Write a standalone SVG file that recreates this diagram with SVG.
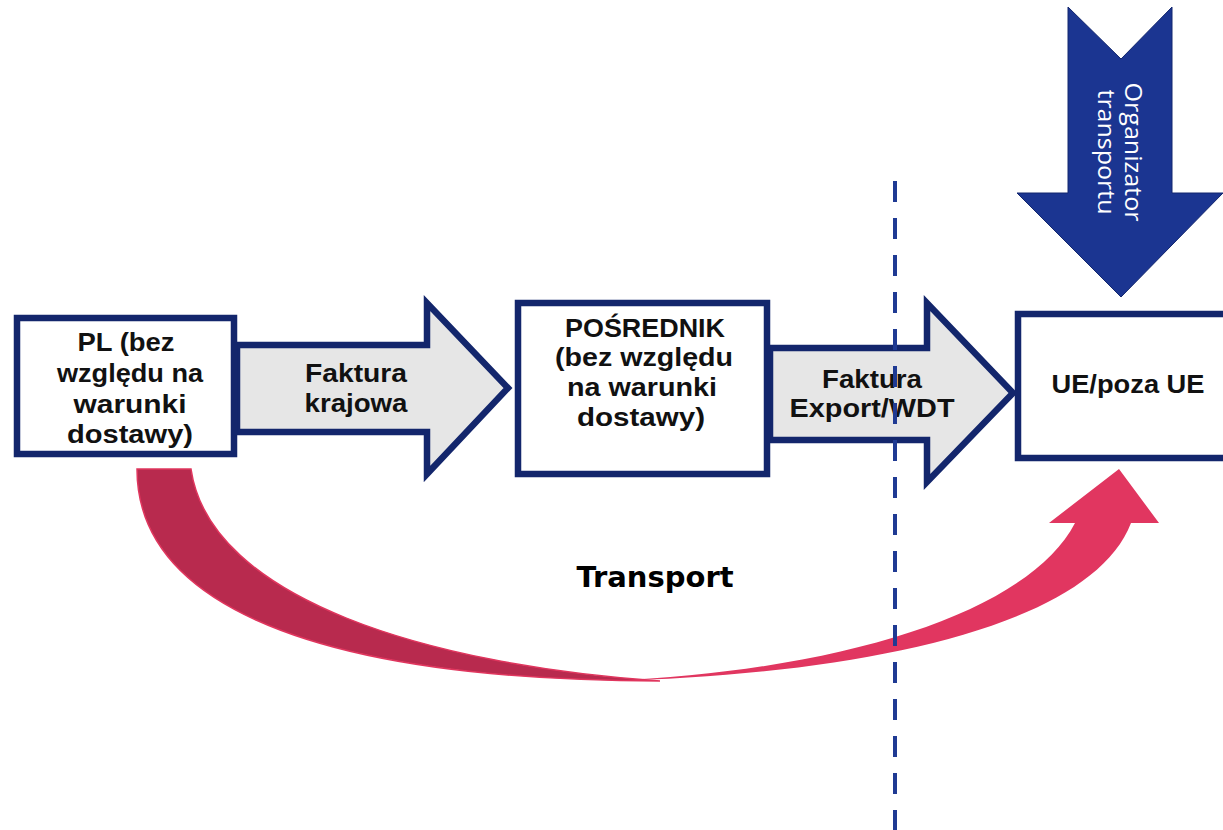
<svg xmlns="http://www.w3.org/2000/svg" width="1223" height="830" viewBox="0 0 1223 830">
  <style>
    .box { fill: #ffffff; stroke: #13266c; stroke-width: 6.5; }
    .flow { fill: #e6e6e6; stroke: #13266c; stroke-width: 6.5; stroke-linejoin: miter; stroke-miterlimit: 10; }
    .lbl { font-family: "Liberation Sans", Arial, sans-serif; font-weight: bold; font-size: 25px; fill: #111111; text-anchor: middle; }
    .org { font-family: "Open Sans", "Liberation Sans", sans-serif; font-size: 24px; fill: #ffffff; text-anchor: middle; }
    .border { stroke: #1f3a93; stroke-width: 4; stroke-dasharray: 21 16; fill: none; }
  </style>

  <!-- invoice flows -->
  <g id="connectors">
    <g id="flow-domestic">
      <polygon class="flow" points="237,345 427,345 427,303 508,388 427,474 427,432 237,432"/>
      <text class="lbl" x="356" y="382" textLength="102" lengthAdjust="spacingAndGlyphs">Faktura</text>
      <text class="lbl" x="356" y="412" textLength="103" lengthAdjust="spacingAndGlyphs">krajowa</text>
    </g>
    <g id="flow-export">
      <polygon class="flow" points="770,348 927,348 927,303 1013,393 927,482 927,440 770,440"/>
      <text class="lbl" x="872" y="388" textLength="100" lengthAdjust="spacingAndGlyphs">Faktura</text>
      <text class="lbl" x="872" y="417" textLength="165" lengthAdjust="spacingAndGlyphs">Export/WDT</text>
    </g>
    <!-- physical transport, curved -->
    <g id="transport">
      <path d="M137,469 C137,590 280,680 660,681 C430,665 210,600 191,469 Z" fill="#b82a4e" stroke="#e0365e" stroke-width="1.5"/>
      <path d="M610,681 C850,675 1090,630 1131,523 L1159,523 L1119,469 L1049,523 L1075,523 C1030,610 850,670 610,681 Z" fill="#e13660"/>
      <text x="655" y="587" font-family="'DejaVu Sans', sans-serif" font-weight="bold" font-size="29" fill="#000000" text-anchor="middle">Transport</text>
    </g>
  </g>

  <g id="node-pl">
    <rect class="box" x="17" y="318" width="217" height="136"/>
    <text class="lbl" x="126" y="351" textLength="97" lengthAdjust="spacingAndGlyphs">PL (bez</text>
    <text class="lbl" x="130" y="382" textLength="146" lengthAdjust="spacingAndGlyphs">względu na</text>
    <text class="lbl" x="130" y="413" textLength="113" lengthAdjust="spacingAndGlyphs">warunki</text>
    <text class="lbl" x="130" y="443" textLength="126" lengthAdjust="spacingAndGlyphs">dostawy)</text>
  </g>

  <g id="node-posrednik">
    <rect class="box" x="518" y="303" width="249" height="171"/>
    <text class="lbl" x="645" y="337" textLength="160" lengthAdjust="spacingAndGlyphs">POŚREDNIK</text>
    <text class="lbl" x="644" y="366" textLength="178" lengthAdjust="spacingAndGlyphs">(bez względu</text>
    <text class="lbl" x="642" y="396" textLength="150" lengthAdjust="spacingAndGlyphs">na warunki</text>
    <text class="lbl" x="641" y="426" textLength="128" lengthAdjust="spacingAndGlyphs">dostawy)</text>
  </g>

  <g id="node-ue">
    <rect class="box" x="1018" y="314" width="230" height="144"/>
    <text class="lbl" x="1128" y="393" textLength="153" lengthAdjust="spacingAndGlyphs">UE/poza UE</text>
  </g>

  <g id="node-organizator">
    <polygon points="1068,7 1121,59 1172,7 1172,193 1223,193 1121,297 1017,193 1068,193" fill="#1b3591" stroke="#12266e" stroke-width="1"/>
    <text class="org" transform="translate(1125,152) rotate(90)" textLength="139" lengthAdjust="spacingAndGlyphs">Organizator</text>
    <text class="org" transform="translate(1098,152) rotate(90)" textLength="125" lengthAdjust="spacingAndGlyphs">transportu</text>
  </g>

  <!-- border line -->
  <line class="border" x1="895" y1="181" x2="895" y2="830"/>
</svg>
